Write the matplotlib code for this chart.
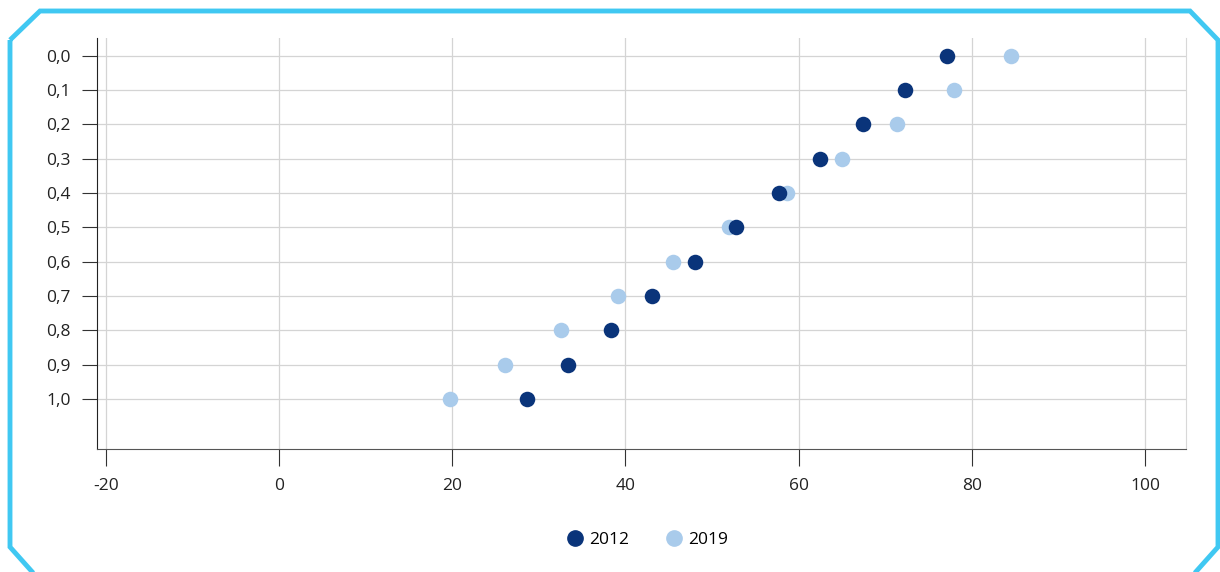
import matplotlib.pyplot as plt
from matplotlib.patches import Polygon
from matplotlib.lines import Line2D

plt.rcParams['font.family'] = ['Open Sans', 'DejaVu Sans']

categories = ["0,0", "0,1", "0,2", "0,3", "0,4", "0,5", "0,6", "0,7", "0,8", "0,9", "1,0"]
values_2012 = [77.1, 72.3, 67.4, 62.5, 57.7, 52.8, 48.0, 43.1, 38.3, 33.4, 28.6]
values_2019 = [84.5, 77.9, 71.4, 65.0, 58.6, 52.0, 45.5, 39.1, 32.6, 26.1, 19.7]
x_ticks = [-20, 0, 20, 40, 60, 80, 100]

dark = "#0a347a"
light = "#a9cbeb"
W, H = 1220, 572

fig = plt.figure(figsize=(W / 100, H / 100), dpi=100)
ax = fig.add_axes([97 / W, 1 - 449 / H, (1186 - 97) / W, (449 - 38) / H])

ypos = list(range(len(categories)))
ax.scatter(values_2019, ypos, s=125, color=light, zorder=3, linewidths=0)
ax.scatter(values_2012, ypos, s=125, color=dark, zorder=4, linewidths=0)

ax.set_xlim(-21.04, 104.74)
ax.set_ylim(11.46, -0.52)
ax.set_yticks(ypos)
ax.set_yticklabels(categories)
ax.set_xticks(x_ticks)
ax.set_xticklabels([str(t) for t in x_ticks])

ax.grid(True, color="#d4d4d4", linewidth=0.9)
ax.set_axisbelow(True)
ax.spines["top"].set_visible(False)
ax.spines["right"].set_color("#d8d8d8")
ax.spines["left"].set_color("#222222")
ax.spines["bottom"].set_color("#555555")
ax.tick_params(axis="y", length=11, color="#333333", labelsize=12.5, labelcolor="#222222", pad=8)
ax.tick_params(axis="x", length=12, color="#333333", labelsize=12.5, labelcolor="#222222", pad=9)

handles = [
    Line2D([], [], marker="o", linestyle="", markersize=11, color=dark, label="2012"),
    Line2D([], [], marker="o", linestyle="", markersize=11, color=light, label="2019"),
]
fig.legend(handles=handles, loc="center", bbox_to_anchor=(643 / W, 1 - 540 / H), ncol=2,
           frameon=False, fontsize=12.5, handletextpad=-0.2, columnspacing=1.6)

# octagonal frame
pts = [(10, 40), (40, 11), (1190, 11), (1218, 40), (1218, 547), (1193, 575),
       (35, 575), (10, 547)]
frame = Polygon([(x / W, 1 - y / H) for x, y in pts], closed=True, fill=False,
                edgecolor="#40c8f2", linewidth=3.5, transform=fig.transFigure, clip_on=False)
fig.patches.append(frame)

fig.savefig("out.png", dpi=100)
